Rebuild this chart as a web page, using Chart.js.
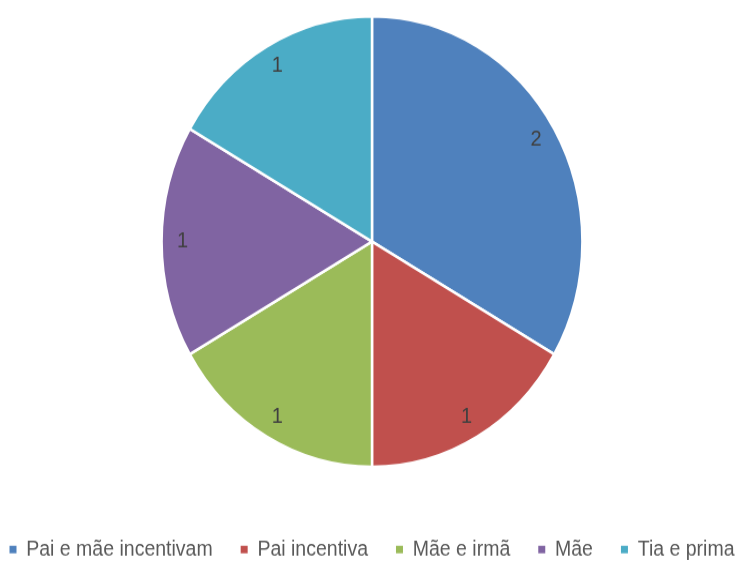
<!DOCTYPE html>
<html>
<head>
<meta charset="utf-8">
<script src="https://cdn.jsdelivr.net/npm/chart.js@4.4.1/dist/chart.umd.min.js"></script>
<style>
  html, body { margin: 0; padding: 0; background: #fff; overflow: hidden; }
  body { width: 742px; height: 561px; position: relative; }
  #wrap {
    position: absolute; left: -28px; top: 0;
    width: 800px; height: 533px;
    transform: scaleY(1.0706); transform-origin: 0 0;
  }
</style>
</head>
<body>
<div id="wrap"><canvas id="pieChart" width="800" height="533"></canvas></div>
<script>
//======================================
// Data
//======================================

const categories = ["Pai e mãe incentivam", "Pai incentiva", "Mãe e irmã", "Mãe", "Tia e prima"];
const counts = [2, 1, 1, 1, 1];
const sliceColors = ["#4F81BD", "#C0504D", "#9BBB59", "#8064A2", "#4BACC6"];

//======================================
// Value labels inside the slices
//======================================

const sliceLabels = {
    id: "sliceLabels",
    afterDatasetsDraw(chart){
        const ctx = chart.ctx;
        const meta = chart.getDatasetMeta(0);
        ctx.save();
        ctx.font = "20px 'Liberation Sans', Arial, sans-serif";
        ctx.fillStyle = "#404040";
        ctx.textAlign = "center";
        ctx.textBaseline = "middle";
        meta.data.forEach((arc, i) => {
            const p = arc.getProps(["x", "y", "startAngle", "endAngle", "outerRadius"], true);
            const mid = (p.startAngle + p.endAngle) / 2;
            const r = p.outerRadius * 0.9;
            ctx.fillText(String(counts[i]), p.x + Math.cos(mid) * r, p.y + Math.sin(mid) * r);
        });
        ctx.restore();
    }
};

//======================================
// Chart
//======================================

new Chart(document.getElementById("pieChart"), {
    type: "pie",
    data: {
        labels: categories,
        datasets: [{
            data: counts,
            backgroundColor: sliceColors,
            borderColor: "#ffffff",
            borderWidth: 2.5
        }]
    },
    options: {
        responsive: false,
        animation: false,
        events: [],
        layout: { padding: { top: 14, left: 0, right: 0, bottom: 0 } },
        plugins: {
            tooltip: { enabled: false },
            legend: {
                position: "bottom",
                title: { display: true, text: "", padding: { top: 23.8, bottom: 0 } },
                labels: {
                    boxWidth: 7,
                    boxHeight: 7,
                    padding: 28,
                    color: "#595959",
                    font: { family: "'Liberation Sans', Arial, sans-serif", size: 19.5 },
                    generateLabels(chart){
                        const items = Chart.overrides.pie.plugins.legend.labels.generateLabels(chart);
                        items.forEach(item => { item.lineWidth = 0; });
                        return items;
                    }
                }
            }
        }
    },
    plugins: [sliceLabels]
});
</script>
</body>
</html>
